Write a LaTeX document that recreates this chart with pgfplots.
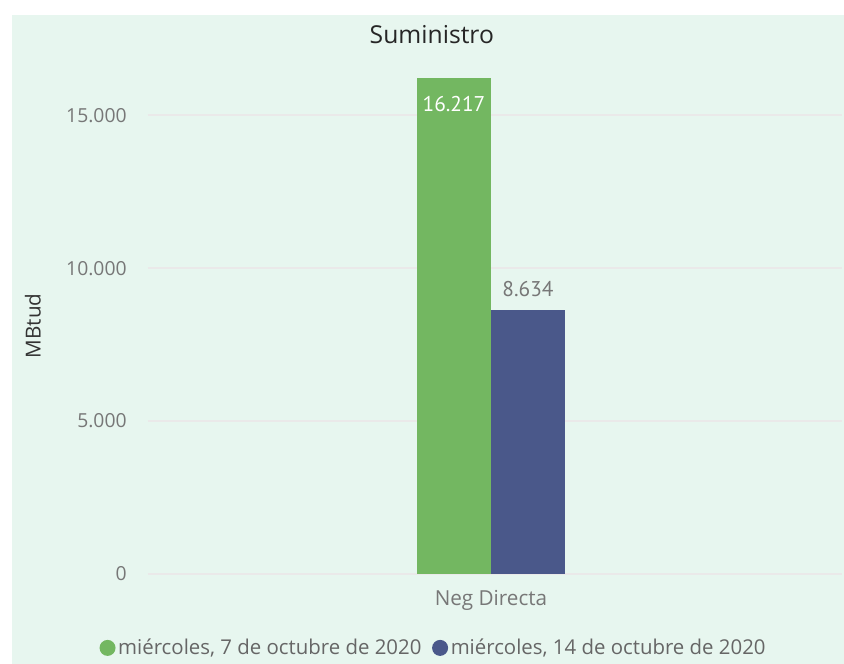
\documentclass[border=0pt]{standalone}
\usepackage{pgfplots}
\pgfplotsset{compat=1.18}
\usepackage{fontspec}
\setmainfont{Open Sans}
\newfontfamily\dinfont{PT Sans}
\definecolor{mint}{HTML}{E7F6EF}
\definecolor{pbgreen}{HTML}{73B761}
\definecolor{pbnavy}{HTML}{4A588A}
\definecolor{tickgray}{HTML}{777777}
\definecolor{gridgray}{HTML}{EAE9E9}
\begin{document}
\begin{tikzpicture}
\fill[white] (0pt,0pt) rectangle (633pt,498pt);
\fill[mint] (9pt,0pt) rectangle (633pt,486.75pt);
\begin{axis}[
  at={(111pt,67.5pt)}, anchor=south west,
  scale only axis,
  width=520.5pt, height=372pt,
  xmin=-343, xmax=351,
  ymin=0, ymax=16217,
  scaled y ticks=false,
  /pgf/number format/assume math mode=true,
  ybar=0pt, bar width=55.5pt,
  axis line style={draw=none},
  major tick length=0pt,
  xtick={0}, xticklabels={Neg Directa},
  xticklabel style={font=\fontsize{15.5}{17}\selectfont, text=tickgray, yshift=-8.5pt},
  ytick={0,5000,10000,15000},
  yticklabels={0,5.000,10.000,15.000},
  yticklabel style={font=\fontsize{14.5}{16}\selectfont, text=tickgray, xshift=-12.5pt},
  ymajorgrids, major grid style={gridgray, line width=1.2pt},
  ylabel={MBtud},
  ylabel style={font=\fontsize{15.5}{17}\selectfont, text=black!80, at={(rel axis cs:-0.166,0.5)}, anchor=center},
  title={Suministro},
  title style={font=\fontsize{18.5}{20}\selectfont, text=black!85, at={(rel axis cs:0.409,1.071)}, anchor=center},
  legend style={at={(rel axis cs:0.412,-0.149)}, anchor=center, draw=none, fill=none,
    legend columns=2, font=\fontsize{15.3}{17}\selectfont, text=black!60,
    /tikz/every even column/.append style={column sep=6pt},
    inner sep=0pt},
  legend image code/.code={\fill (0pt,0pt) circle (6pt);},
  clip=false,
]
\addplot[fill=pbgreen, draw=none,
  nodes near coords={\pgfmathprintnumber[fixed, 1000 sep={.}]{\pgfplotspointmeta}},
  every node near coord/.append style={text=white, font=\dinfont\fontsize{16}{18}\selectfont, anchor=north, yshift=-10pt}]
  coordinates {(0,16217)};
\addplot[fill=pbnavy, draw=none,
  nodes near coords={\pgfmathprintnumber[fixed, 1000 sep={.}]{\pgfplotspointmeta}},
  every node near coord/.append style={text=tickgray, font=\dinfont\fontsize{16}{18}\selectfont, anchor=south, yshift=6pt}]
  coordinates {(0,8634)};
\legend{miércoles{,} 7 de octubre de 2020, miércoles{,} 14 de octubre de 2020}
\end{axis}
\end{tikzpicture}
\end{document}
